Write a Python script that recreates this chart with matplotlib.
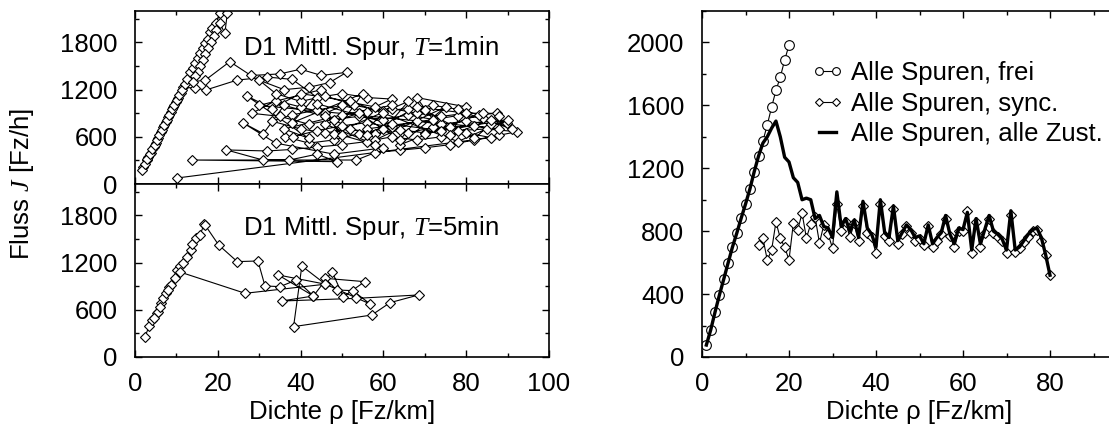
import matplotlib.pyplot as plt
from matplotlib.ticker import MultipleLocator

plt.rcParams['font.family'] = ['Liberation Sans', 'DejaVu Sans']
plt.rcParams['mathtext.fontset'] = 'custom'
plt.rcParams['mathtext.it'] = 'Liberation Serif:italic'
plt.rcParams['mathtext.rm'] = 'Liberation Sans'

# D1 mittlere Spur, T=1min (Zeitreihe)
rho_1min = [10.1, 86, 80, 74, 68, 62, 56, 50, 44, 38,
            32, 22.1, 30.9, 37.3, 44, 48.7, 13.7, 53.5, 58, 64,
            70, 76, 82, 88, 92.2, 85, 78, 72, 66, 60,
            54, 48, 42, 36.2, 38.2, 44, 50, 56, 62, 68,
            74, 80, 86, 89.8, 84, 78, 72, 66, 60, 54,
            48, 42, 35, 28.2, 34, 40, 46, 52, 58, 62,
            56, 50, 44, 38, 32, 24.7, 17.1, 14.5,
            11.6, 11.0, 10.4, 9.8, 9.2, 8.6, 8.0, 7.4, 6.8, 6.2,
            5.6, 5.0, 4.5, 3.8, 3.2, 2.8, 2.0, 1.6,
            2.4, 3.0, 3.6, 4.2, 4.8, 5.3, 5.9, 6.5, 7.1, 7.7,
            8.3, 8.9, 9.5, 10.1, 10.7, 11.3, 12.0, 12.6, 13.3, 13.9,
            14.5, 15.2, 15.8, 16.4, 17.0, 17.6, 18.1, 18.7, 19.5, 20.5,
            22.3, 21.7, 20.5, 19.6, 19.0, 18.3, 17.6, 17.0, 16.4, 15.7,
            15.1, 14.6, 14.0,
            17.0, 22.9, 28, 35, 40, 45, 51.1, 47, 42, 36,
            30, 34, 40, 46, 53, 60, 66, 72, 78, 83,
            87.4, 80, 74, 68, 62, 56, 50, 44, 38, 33,
            40, 46, 52, 58, 64, 70, 76, 82, 88,
            30, 45, 38, 55, 48, 66, 58, 75, 64, 84,
            70, 90, 78, 60, 52, 40, 33, 27, 42, 36,
            50, 62, 56, 72, 68, 80, 76, 88, 82, 70,
            64, 54, 46, 58, 50, 44, 62, 74, 86, 91,
            80, 68, 56, 46, 36, 31, 26, 34, 48, 60]
J_1min = [76, 590, 650, 600, 560, 600, 540, 500, 470, 440,
          420, 433, 305, 305, 380, 284, 305, 305, 400, 430,
          460, 500, 560, 620, 665, 700, 680, 720, 650, 700,
          640, 560, 520, 602, 602, 680, 740, 780, 720, 800,
          760, 800, 760, 780, 840, 870, 820, 880, 820, 860,
          820, 760, 860, 899, 1060, 980, 900, 1040, 980, 1080,
          1100, 1150, 1100, 1330, 1360, 1322, 1195, 1220,
          1230, 1160, 1100, 1040, 980, 920, 850, 790, 729, 660,
          590, 525, 470, 400, 340, 300, 220, 178,
          260, 320, 380, 440, 500, 560, 620, 690, 750, 820,
          880, 950, 1010, 1070, 1130, 1200, 1270, 1330, 1420, 1480,
          1540, 1600, 1670, 1730, 1790, 1850, 1929, 1990, 2050, 2170,
          2170, 1916, 2043, 1960, 1880, 1800, 1730, 1650, 1580, 1500,
          1430, 1370, 1300,
          1322, 1556, 1380, 1400, 1460, 1380, 1420, 1290, 1230, 1200,
          1320, 1150, 1050, 1120, 1000, 930, 960, 1000, 950, 880,
          899, 900, 860, 900, 960, 920, 1000, 940, 880, 800,
          700, 650, 700, 640, 690, 650, 720, 740, 700,
          1000, 1200, 780, 1150, 640, 1050, 560, 980, 500, 900,
          640, 820, 540, 900, 1050, 1150, 960, 1120, 580, 700,
          880, 1000, 700, 820, 1100, 980, 620, 860, 580, 940,
          560, 900, 760, 500, 620, 1020, 760, 680, 820, 700,
          900, 980, 620, 860, 1000, 640, 780, 520, 380, 460]

# D1 mittlere Spur, T=5min
rho_5min = [2.4, 3.5, 4.2, 5.2, 5.6, 6.4, 6.8, 7.5, 8.3, 8.6,
            10.1, 10.9, 11.7, 12.5, 13.5, 13.7, 14.7, 15.7, 16.7, 16.9,
            20.2, 24.7, 29.7, 31.4, 35.0, 39.0, 43.1, 47.6, 50.3, 55.5,
            45.9, 48.7, 52.6, 56.8, 46.0, 40.3, 38.3, 57.2, 61.6, 68.5,
            53.5, 35.4, 43.1, 34.6, 46.0, 26.6, 10.9, 9.6, 8.0, 6.0, 4.6]
J_5min = [259, 400, 470, 556, 570, 683, 746, 810, 895, 916,
          1107, 1158, 1200, 1276, 1361, 1433, 1509, 1552, 1687, 1680,
          1425, 1213, 1221, 903, 895, 979, 776, 1086, 767, 958,
          1001, 852, 844, 674, 926, 1157, 386, 534, 691, 789,
          746, 712, 776, 1043, 926, 810, 1080, 1010, 850, 640, 500]

# Alle Spuren
rho_frei = list(range(1, 21))
J_frei = [76, 172, 286, 394, 495, 598, 699, 788, 882, 972,
          1067, 1178, 1278, 1373, 1475, 1589, 1695, 1780, 1888, 1983]
rho_sync = list(range(13, 81))
J_sync = [712, 756, 617, 680, 858, 756, 699, 617,
          851, 807, 915, 756, 846, 890, 725, 839, 780, 693,
          972, 800, 860, 760, 850, 740, 960, 790, 760, 660,
          970, 770, 740, 940, 720, 780, 830, 790, 740, 750,
          710, 830, 700, 740, 780, 880, 770, 700, 800, 800,
          930, 660, 860, 700, 790, 880, 790, 760, 740, 660,
          900, 670, 690, 730, 760, 800, 810, 740, 650, 520]
rho_alle = list(range(1, 81))
J_alle = [76, 172, 286, 394, 495, 598, 699, 788, 882, 972,
          1067, 1178, 1278, 1360, 1400, 1455, 1500, 1400, 1270, 1240,
          1140, 1110, 1000, 1010, 1000, 880, 900, 830, 820, 760,
          1050, 830, 880, 800, 870, 760, 990, 820, 780, 700,
          1000, 790, 760, 960, 740, 790, 840, 810, 760, 770,
          720, 840, 720, 760, 790, 900, 780, 720, 820, 810,
          920, 680, 880, 720, 810, 900, 800, 780, 750, 680,
          930, 680, 700, 740, 780, 810, 820, 760, 650, 520]

fs = 18.5
W, H = 1109, 430
fig = plt.figure(figsize=(W / 100, H / 100), dpi=100)
ax1 = fig.add_axes([135 / W, 246 / H, 414 / W, 173 / H])
ax2 = fig.add_axes([135 / W, 73 / H, 414 / W, 173 / H])
ax3 = fig.add_axes([702 / W, 73 / H, 435 / W, 346 / H])

dia = dict(marker='D', ms=5.5, mfc='white', mec='black', mew=0.8, color='black', lw=0.8)
ax1.plot(rho_1min, J_1min, **dia)
ax2.plot(rho_5min, J_5min, **dia)

for ax in (ax1, ax2):
    ax.set_xlim(0, 100)
    ax.set_ylim(0, 2200)
    ax.xaxis.set_major_locator(MultipleLocator(20))
    ax.xaxis.set_minor_locator(MultipleLocator(10))
    ax.yaxis.set_major_locator(MultipleLocator(600))
    ax.yaxis.set_minor_locator(MultipleLocator(300))
ax1.tick_params(labelbottom=False)

ax1.text(0.261, 0.746, 'D1 Mittl. Spur, $T$=1min', transform=ax1.transAxes,
         fontsize=fs, va='baseline', ha='left')
ax2.text(0.261, 0.705, 'D1 Mittl. Spur, $T$=5min', transform=ax2.transAxes,
         fontsize=fs, va='baseline', ha='left')
ax2.set_xlabel('Dichte ρ [Fz/km]', fontsize=fs, labelpad=3)
fig.text(22 / W, 0.572, 'Fluss $J$ [Fz/h]', rotation=90, fontsize=fs,
         va='center', ha='center')

ax3.plot(rho_frei, J_frei, marker='o', ms=7, mfc='white', mec='black', mew=0.8,
         color='black', lw=0.8, label='Alle Spuren, frei')
ax3.plot(rho_sync, J_sync, marker='D', ms=5.5, mfc='white', mec='black', mew=0.8,
         color='black', lw=0.8, label='Alle Spuren, sync.')
ax3.plot(rho_alle, J_alle, color='black', lw=2.4, label='Alle Spuren, alle Zust.')
ax3.set_xlim(0, 100)
ax3.set_ylim(0, 2200)
ax3.set_xticks([0, 20, 40, 60, 80])
ax3.xaxis.set_minor_locator(MultipleLocator(10))
ax3.yaxis.set_major_locator(MultipleLocator(400))
ax3.yaxis.set_minor_locator(MultipleLocator(200))
ax3.set_xlabel('Dichte ρ [Fz/km]', fontsize=fs, labelpad=3)
ax3.legend(loc='upper left', bbox_to_anchor=(0.2506, 0.855), frameon=False,
           fontsize=fs, numpoints=2, handlelength=1.27, handletextpad=0.3,
           labelspacing=0.25, borderaxespad=0, borderpad=0, markerscale=0.8)

for ax in (ax1, ax2, ax3):
    ax.tick_params(which='both', direction='in', top=True, right=True,
                   labelsize=fs, width=1)
    ax.tick_params(which='major', length=5)
    ax.tick_params(which='minor', length=3)
    ax.tick_params(axis='x', pad=10.5)
    ax.tick_params(axis='y', pad=12.6)
    for s in ax.spines.values():
        s.set_linewidth(1.2)

fig.savefig('out.png', dpi=100)
